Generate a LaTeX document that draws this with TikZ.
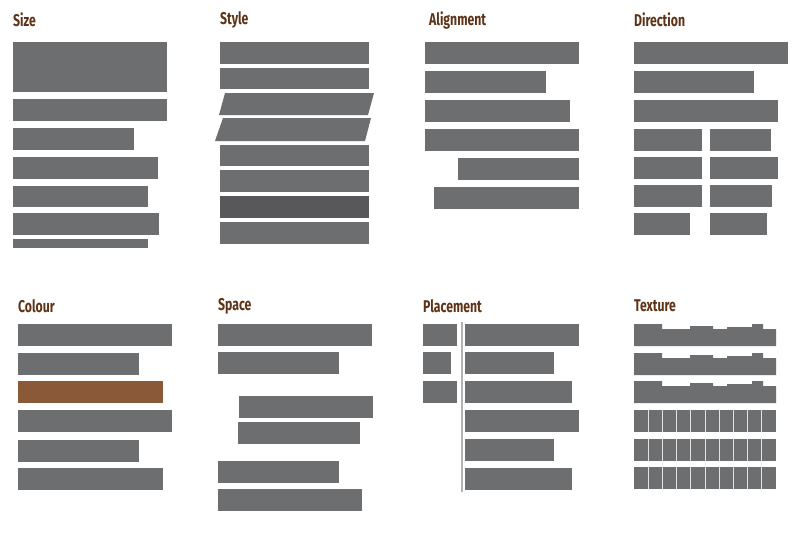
\documentclass[tikz,border=0pt]{standalone}
\usepackage{fontspec}
\setmainfont{Fira Sans}
\definecolor{barg}{HTML}{6D6E70}
\definecolor{bard}{HTML}{58585A}
\definecolor{ttl}{HTML}{5E3418}
\definecolor{brn}{HTML}{8A5A38}
\newcommand{\rb}[5][barg]{\fill[#1] (#2,#3) rectangle (#4,#5);}
\begin{document}
\begin{tikzpicture}[x=1pt,y=-1pt,
  ttl/.style={anchor=west,text=ttl,font=\bfseries\fontsize{17}{17}\selectfont,xscale=0.72,inner sep=0pt}]
\useasboundingbox[fill=white] (0,0) rectangle (800,549);
% titles
\node[ttl] (t1) at (13,20) {Size};
\node[ttl] (t2) at (220,20) {Style};
\node[ttl] (t3) at (429,20) {Alignment};
\node[ttl] (t4) at (634,20) {Direction};
\node[ttl] (t5) at (18,306) {Colour};
\node[ttl] (t6) at (218,306) {Space};
\node[ttl] (t7) at (423,306) {Placement};
\node[ttl] (t8) at (634,306) {Texture};
% Size
\rb{13}{42}{167}{92}\rb{13}{99}{167}{121}\rb{13}{128}{134}{150}\rb{13}{157}{158}{179}
\rb{13}{186}{148}{207}\rb{13}{213}{159}{235}\rb{13}{239}{148}{248}
% Style
\rb{220}{42}{369}{64}\rb{220}{68}{369}{89}
\fill[barg] (225,93)--(374,93)--(368,115)--(219,115)--cycle;
\fill[barg] (223,118)--(371,118)--(365,141)--(215,141)--cycle;
\rb{220}{145}{369}{166}\rb{220}{170}{369}{192}\rb[bard]{220}{196}{369}{218}\rb{220}{222}{369}{244}
% Alignment
\rb{425}{42}{579}{64}\rb{425}{71}{546}{93}\rb{425}{100}{570}{122}\rb{425}{129}{579}{151}
\rb{458}{158}{579}{180}\rb{434}{187}{579}{209}
% Direction
\rb{634}{42}{788}{64}\rb{634}{71}{754}{93}\rb{634}{100}{778}{122}
\rb{634}{129}{702}{151}\rb{710}{129}{771}{151}
\rb{634}{157}{702}{179}\rb{710}{157}{778}{179}
\rb{634}{185}{702}{207}\rb{710}{185}{772}{207}
\rb{634}{213}{690}{235}\rb{710}{213}{767}{235}
% Colour
\rb{18}{324}{172}{346}\rb{18}{353}{139}{375}\rb[brn]{18}{381}{163}{403}
\rb{18}{410}{172}{432}\rb{18}{440}{139}{462}\rb{18}{468}{163}{490}
% Space
\rb{218}{324}{372}{346}\rb{218}{352}{339}{374}\rb{239}{396}{373}{418}
\rb{238}{422}{360}{444}\rb{218}{461}{339}{483}\rb{218}{489}{362}{511}
% Placement
\rb{423}{324}{457}{346}\rb{423}{352}{451}{374}\rb{423}{381}{457}{403}
\draw[gray!60,line width=1.2] (462,322) -- (462,492);
\rb{465}{324}{579}{346}\rb{465}{352}{554}{374}\rb{465}{381}{572}{403}
\rb{465}{410}{579}{432}\rb{465}{439}{554}{461}\rb{465}{468}{572}{490}
% Texture
\foreach \o in {0,29,57}{
  \fill[barg] (634,324+\o)--(662,324+\o)--(662,329+\o)--(690,329+\o)--(690,326+\o)--(713,326+\o)
    --(713,329+\o)--(727,329+\o)--(727,327+\o)--(752,327+\o)--(752,324+\o)--(763,324+\o)
    --(763,329+\o)--(776,329+\o)--(776,346+\o)--(634,346+\o)--cycle;}
\foreach \y in {410,439,467}{
  \rb{634}{\y}{776}{\y+22}
  \foreach \k in {1,...,9}{\draw[white!80!barg,line width=0.8] (634+14.2*\k,\y) -- (634+14.2*\k,\y+22);}}
\end{tikzpicture}
\end{document}
